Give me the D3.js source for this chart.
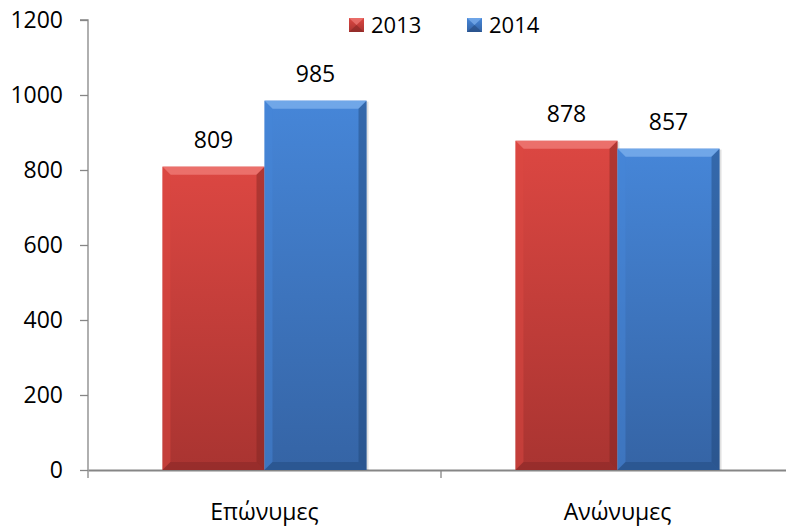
<!DOCTYPE html>
<html><head><meta charset="utf-8">
<script src="https://cdn.jsdelivr.net/npm/d3@7"></script>
<style>body{margin:0;background:#fff}svg{display:block}text{font-family:"Open Sans",sans-serif;fill:#000}</style>
</head><body>
<script>
const categories = ["Επώνυμες", "Ανώνυμες"];
const seriesNames = ["2013", "2014"];
const values2013 = [809, 878];
const values2014 = [985, 857];
const yTicks = [0, 200, 400, 600, 800, 1000, 1200];

const W = 786, H = 527;
const svg = d3.select("body").append("svg").attr("width", W).attr("height", H);
const margin = {left: 88, right: -8, top: 20, bottom: 57};
const x0 = d3.scaleBand().domain(categories).range([margin.left, W - margin.right]).paddingInner(0).paddingOuter(0);
const y = d3.scaleLinear().domain([0, 1200]).range([H - margin.bottom, margin.top]);
const x1 = d3.scaleBand().domain(seriesNames).range([0, x0.bandwidth()]).paddingInner(0).paddingOuter(0.73);

const colors = {
  "2013": {top: "#dc4742", bot: "#a93431", light: "#f07e79", dark: "#7d2422"},
  "2014": {top: "#4686d8", bot: "#3564a5", light: "#7fb2ee", dark: "#1f4475"}
};
const defs = svg.append("defs");
seriesNames.forEach(s => {
  const g = defs.append("linearGradient").attr("id", "g" + s).attr("x1", 0).attr("y1", 0).attr("x2", 0).attr("y2", 1);
  g.append("stop").attr("offset", "0%").attr("stop-color", colors[s].top);
  g.append("stop").attr("offset", "100%").attr("stop-color", colors[s].bot);
});

const fs = "23px";
// y axis
const yAxis = d3.axisLeft(y).tickValues(yTicks).tickSize(8).tickPadding(17).tickFormat(d3.format("d"));
const gy = svg.append("g").attr("transform", `translate(${margin.left},0)`).call(yAxis);
gy.select(".domain").attr("stroke", "#868686").attr("stroke-width", 1.3).attr("d", `M-8,${y(1200)}H0V${y(0)}`);
gy.selectAll(".tick line").attr("stroke", "#868686").attr("stroke-width", 1.3);
gy.selectAll(".tick text").style("font-size", fs).style("font-family", "'Open Sans',sans-serif").attr("fill", "#000");

// x axis
const xAxis = d3.axisBottom(x0).tickSize(0).tickPadding(34);
const gx = svg.append("g").attr("transform", `translate(0,${y(0)})`).call(xAxis);
gx.select(".domain").attr("stroke", "#868686").attr("stroke-width", 1.8);
gx.selectAll(".tick text").style("font-size", fs).style("font-family", "'Open Sans',sans-serif").attr("fill", "#000");
const boundaries = [x0.range()[0], x0(categories[1]), x0.range()[1]];
gx.selectAll(".cattick").data(boundaries).enter().append("line").attr("class", "cattick")
  .attr("x1", d => d).attr("x2", d => d).attr("y1", 0).attr("y2", 8).attr("stroke", "#868686").attr("stroke-width", 1.3);

// bars
const data = [];
categories.forEach((c, i) => {
  data.push({c, s: "2013", v: values2013[i]});
  data.push({c, s: "2014", v: values2014[i]});
});
const bev = 8;
const bars = svg.append("g").selectAll("g").data(data).enter().append("g")
  .attr("transform", d => `translate(${x0(d.c) + x1(d.s)},${y(d.v)})`);
bars.append("rect").attr("x", 2).attr("y", 1).attr("width", x1.bandwidth()).attr("height", d => y(0) - y(d.v) - 1)
  .attr("fill", "#000").attr("opacity", 0.12);
bars.append("rect").attr("width", x1.bandwidth()).attr("height", d => y(0) - y(d.v))
  .attr("fill", d => `url(#g${d.s})`);
// bevel top
bars.append("path").attr("d", d => {
  const w = x1.bandwidth();
  return `M0,0H${w}L${w - bev},${bev}H${bev}Z`;
}).attr("fill", d => colors[d.s].light).attr("opacity", 0.75);
// bevel left
bars.append("path").attr("d", d => {
  const h = y(0) - y(d.v);
  return `M0,0L${bev},${bev}V${h - bev}L0,${h}Z`;
}).attr("fill", d => colors[d.s].top).attr("opacity", 0.5);
// bevel right
bars.append("path").attr("d", d => {
  const w = x1.bandwidth(), h = y(0) - y(d.v);
  return `M${w},0L${w - bev},${bev}V${h - bev}L${w},${h}Z`;
}).attr("fill", d => colors[d.s].dark).attr("opacity", 0.45);
// bevel bottom
bars.append("path").attr("d", d => {
  const w = x1.bandwidth(), h = y(0) - y(d.v);
  return `M0,${h}L${bev},${h - bev}H${w - bev}L${w},${h}Z`;
}).attr("fill", d => colors[d.s].dark).attr("opacity", 0.4);

// value labels
bars.append("text").attr("x", x1.bandwidth() / 2).attr("y", -19).attr("text-anchor", "middle")
  .style("font-size", fs).text(d => d.v);

// legend
const legX = [349, 467];
const leg = svg.append("g").selectAll("g").data(seriesNames).enter().append("g")
  .attr("transform", (d, i) => `translate(${legX[i]},18)`);
leg.append("rect").attr("width", 15).attr("height", 14).attr("fill", d => `url(#g${d})`);
leg.append("path").attr("d", "M0,0H15L7.5,7Z").attr("fill", d => colors[d].light).attr("opacity", 0.7);
leg.append("path").attr("d", "M0,14H15L7.5,7Z").attr("fill", d => colors[d].dark).attr("opacity", 0.5);
leg.append("text").attr("x", 22).attr("y", 15).style("font-size", "22px").text(d => d);
</script>
</body></html>
